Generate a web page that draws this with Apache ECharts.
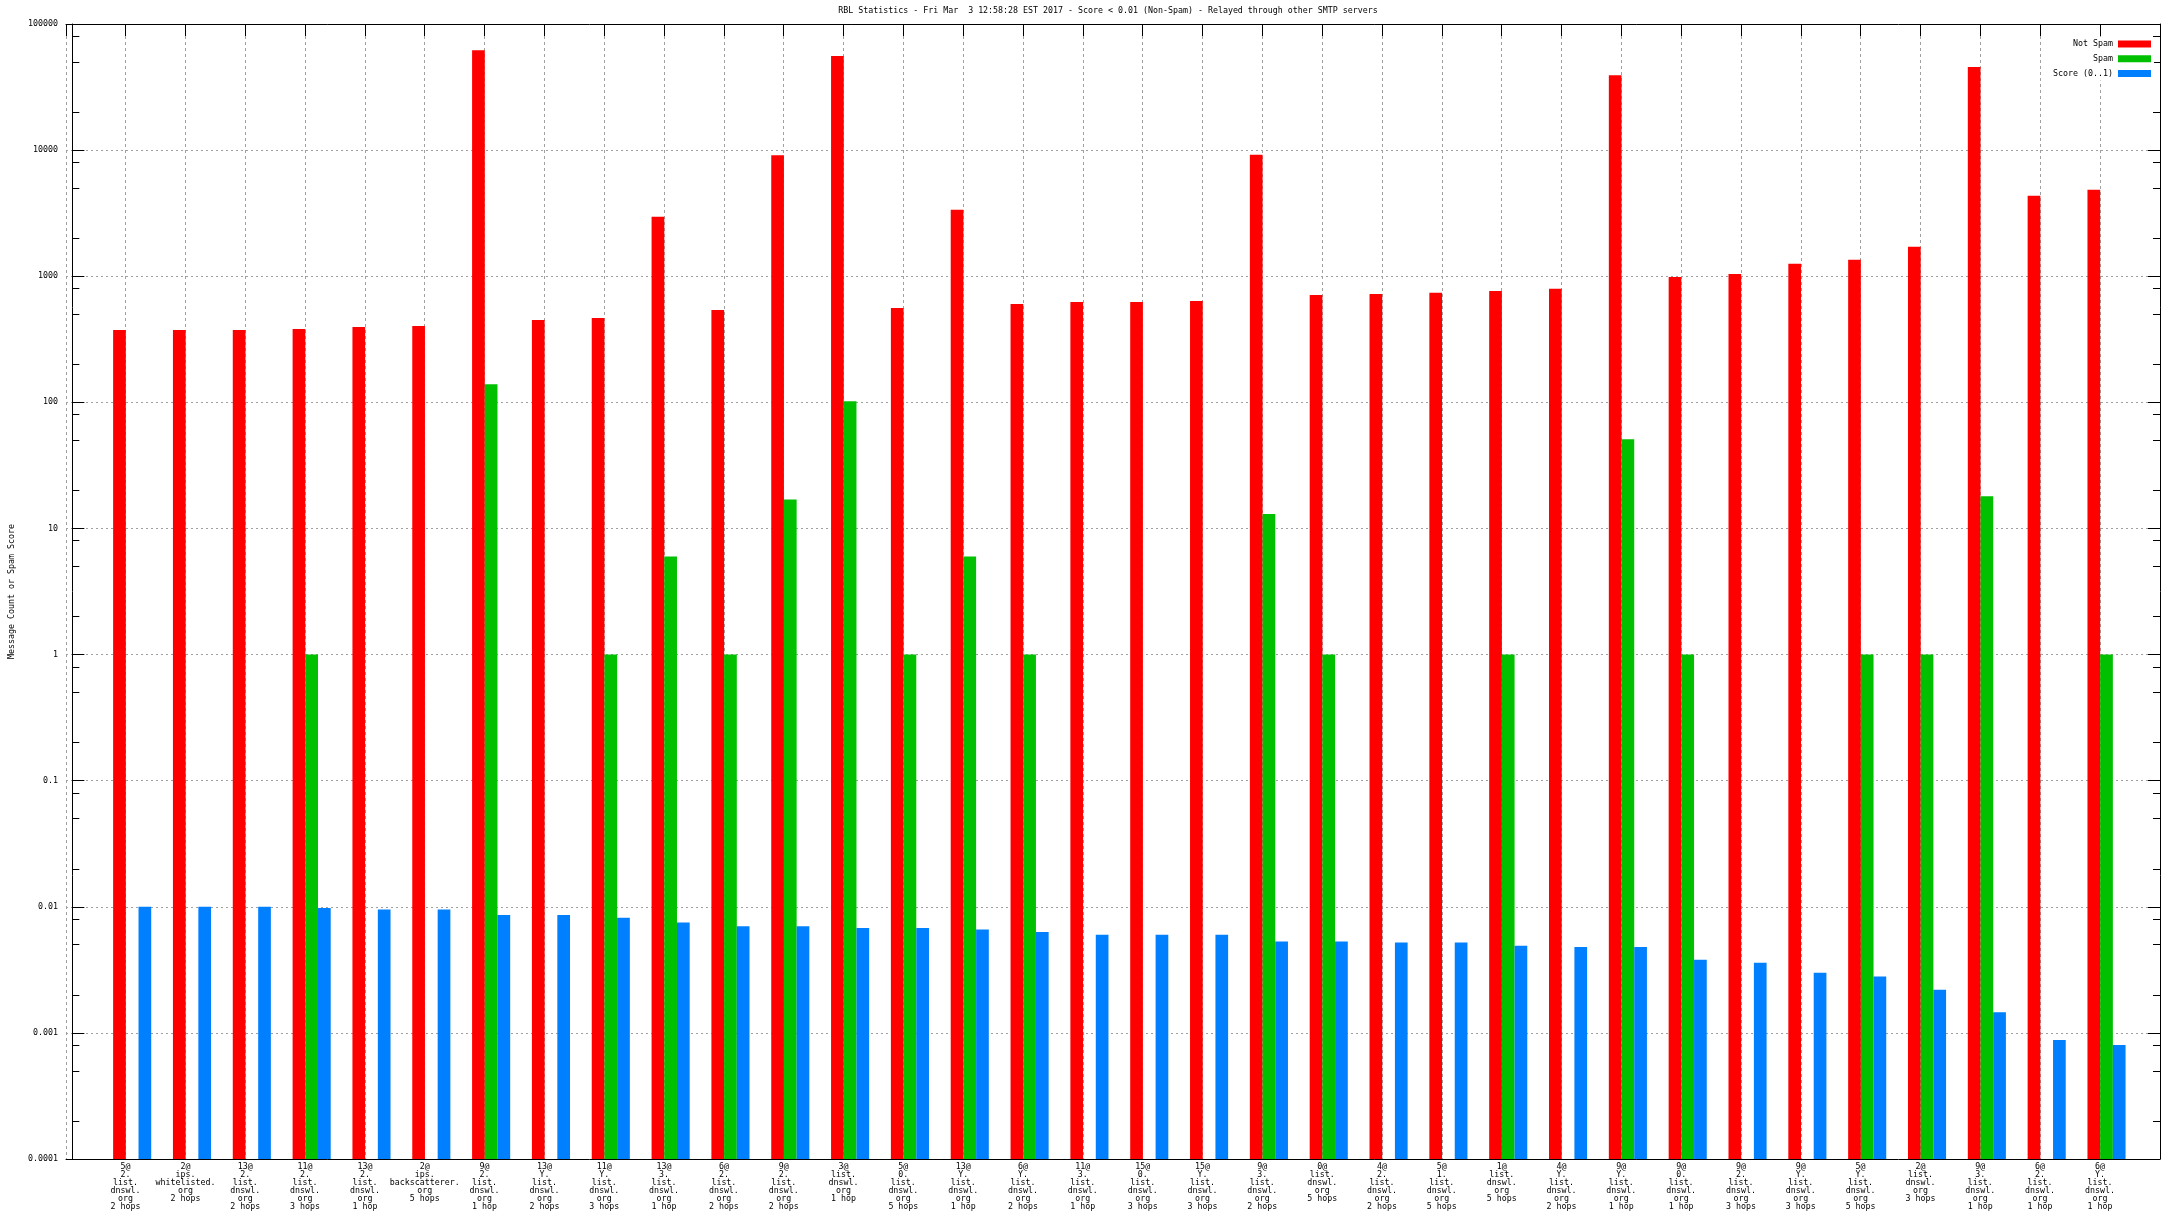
<!DOCTYPE html>
<html><head><meta charset="utf-8">
<script src="https://cdn.jsdelivr.net/npm/echarts@6/dist/echarts.min.js"></script>
<style>html,body{margin:0;padding:0;background:#fff}#c{width:2176px;height:1224px}</style>
</head><body><div id="c"></div>
<script>
const categories = [
  '5@\n2.\nlist.\ndnswl.\norg\n2 hops',
  '2@\nips.\nwhitelisted.\norg\n2 hops',
  '13@\n2.\nlist.\ndnswl.\norg\n2 hops',
  '11@\n2.\nlist.\ndnswl.\norg\n3 hops',
  '13@\n2.\nlist.\ndnswl.\norg\n1 hop',
  '2@\nips.\nbackscatterer.\norg\n5 hops',
  '9@\n2.\nlist.\ndnswl.\norg\n1 hop',
  '13@\nY.\nlist.\ndnswl.\norg\n2 hops',
  '11@\nY.\nlist.\ndnswl.\norg\n3 hops',
  '13@\n3.\nlist.\ndnswl.\norg\n1 hop',
  '6@\n2.\nlist.\ndnswl.\norg\n2 hops',
  '9@\n2.\nlist.\ndnswl.\norg\n2 hops',
  '3@\nlist.\ndnswl.\norg\n1 hop',
  '5@\n0.\nlist.\ndnswl.\norg\n5 hops',
  '13@\nY.\nlist.\ndnswl.\norg\n1 hop',
  '6@\nY.\nlist.\ndnswl.\norg\n2 hops',
  '11@\n3.\nlist.\ndnswl.\norg\n1 hop',
  '15@\n0.\nlist.\ndnswl.\norg\n3 hops',
  '15@\nY.\nlist.\ndnswl.\norg\n3 hops',
  '9@\n3.\nlist.\ndnswl.\norg\n2 hops',
  '0@\nlist.\ndnswl.\norg\n5 hops',
  '4@\n2.\nlist.\ndnswl.\norg\n2 hops',
  '5@\n1.\nlist.\ndnswl.\norg\n5 hops',
  '1@\nlist.\ndnswl.\norg\n5 hops',
  '4@\nY.\nlist.\ndnswl.\norg\n2 hops',
  '9@\nY.\nlist.\ndnswl.\norg\n1 hop',
  '9@\n0.\nlist.\ndnswl.\norg\n1 hop',
  '9@\n2.\nlist.\ndnswl.\norg\n3 hops',
  '9@\nY.\nlist.\ndnswl.\norg\n3 hops',
  '5@\nY.\nlist.\ndnswl.\norg\n5 hops',
  '2@\nlist.\ndnswl.\norg\n3 hops',
  '9@\n3.\nlist.\ndnswl.\norg\n1 hop',
  '6@\n2.\nlist.\ndnswl.\norg\n1 hop',
  '6@\nY.\nlist.\ndnswl.\norg\n1 hop'
];
const notSpam = [374, 374, 374, 381, 395, 403, 61800, 449, 466, 2965, 540, 9100, 55800, 560, 3365, 602, 625,
  626, 637, 9190, 711, 724, 738, 765, 794, 39200, 988, 1043, 1253, 1348, 1709, 45600, 4343, 4843];
const spam = [null, null, null, 1, null, null, 139, null, 1, 6, 1, 17, 102, 1, 6, 1, null,
  null, null, 13, 1, null, null, 1, null, 51, 1, null, null, 1, 1, 18, null, 1];
const score = [0.0100, 0.0100, 0.0100, 0.0098, 0.0095, 0.0095, 0.0086, 0.0086, 0.0082, 0.0075, 0.0070, 0.0070,
  0.0068, 0.0068, 0.0066, 0.0063, 0.0060, 0.0060, 0.0060, 0.0053, 0.0053, 0.0052, 0.0052, 0.0049, 0.0048,
  0.0048, 0.0038, 0.0036, 0.0030, 0.0028, 0.0022, 0.00146, 0.00088, 0.00080];
const seriesNames = ['Not Spam', 'Spam', 'Score (0..1)'];
const yTickLabels = ['0.0001', '0.001', '0.01', '0.1', '1', '10', '100', '1000', '10000', '100000'];
const minorMantissas = [2, 5, 8];
const titleText = 'RBL Statistics - Fri Mar  3 12:58:28 EST 2017 - Score < 0.01 (Non-Spam) - Relayed through other SMTP servers';
const yName = 'Message Count or Spam Score';

const FONT = 'DejaVu Sans Mono';
const FS = 8.3;
const Y_MIN = 0.0001, Y_MAX = 100000;
const X_SHIFT = 0.106;  // ticks sit at the red/green boundary
const X_MIN = -X_SHIFT, X_MAX = categories.length + 1 - X_SHIFT;

const minorVals = [];
for (let e = -4; e < 5; e++) minorMantissas.forEach(m => minorVals.push(m * Math.pow(10, e)));

const toPairs = arr => arr.map((v, i) => [i + 1, v]);
const colors = ['#ff0000', '#00c000', '#0080ff'];
const BW = 12.7;

const logAxisBase = { type: 'log', logBase: 10, min: Y_MIN, max: Y_MAX, splitNumber: 9, startValue: Y_MIN };

const chart = echarts.init(document.getElementById('c'), null, { renderer: 'canvas' });
chart.setOption({
  animation: false,
  backgroundColor: '#fff',
  title: {
    text: titleText, left: 1108, top: 7, padding: 0, textAlign: 'center',
    textStyle: { fontFamily: FONT, fontSize: FS, fontWeight: 'normal', color: '#000' }
  },
  legend: {
    orient: 'vertical', right: 22, top: 37, align: 'right', icon: 'rect',
    itemWidth: 33, itemHeight: 7, itemGap: 6.7, backgroundColor: '#fff', padding: [3, 3, 3, 10],
    data: seriesNames,
    textStyle: { fontFamily: FONT, fontSize: FS, color: '#000' }
  },
  grid: { left: 56, right: 16, top: 24, bottom: 65, containLabel: false },
  xAxis: [
    {
      type: 'value', min: X_MIN, max: X_MAX, interval: 1, position: 'bottom',
      axisLine: { show: true, lineStyle: { color: '#000', width: 1 } },
      axisTick: { show: false },
      axisLabel: {
        show: true, margin: 4, fontFamily: FONT, fontSize: FS, lineHeight: 8, color: '#000',
        showMinLabel: true, showMaxLabel: true,
        formatter: v => { const k = Math.round(v + X_SHIFT); return categories[k - 1] || ''; }
      },
      splitLine: { show: true, lineStyle: { color: '#a0a0a0', width: 1, type: [3, 3] } }
    },
    {
      type: 'value', min: X_MIN, max: X_MAX, interval: 1, position: 'top',
      axisLine: { show: true, lineStyle: { color: '#000', width: 1 } },
      axisTick: { show: true, inside: true, length: 12, lineStyle: { color: '#000' } },
      axisLabel: { show: false }, splitLine: { show: false }
    }
  ],
  yAxis: [
    Object.assign({}, logAxisBase, {
      position: 'left',
      name: yName, nameLocation: 'middle', nameGap: 50, nameRotate: 90,
      nameTextStyle: { fontFamily: FONT, fontSize: FS, color: '#000' },
      axisLine: { show: true, lineStyle: { color: '#000', width: 1 } },
      axisTick: { show: true, inside: true, length: 12, lineStyle: { color: '#000' } },
      axisLabel: {
        margin: 8, fontFamily: FONT, fontSize: FS, color: '#000',
        formatter: v => yTickLabels[Math.round(Math.log10(v)) + 4] || ''
      },
      splitLine: { show: true, lineStyle: { color: '#a0a0a0', width: 1, type: [2, 3] } }
    }),
    Object.assign({}, logAxisBase, {
      position: 'left',
      axisLine: { show: false },
      axisTick: { show: true, inside: true, length: 7, customValues: minorVals, lineStyle: { color: '#000' } },
      axisLabel: { show: false }, splitLine: { show: false }
    }),
    Object.assign({}, logAxisBase, {
      position: 'right',
      axisLine: { show: true, lineStyle: { color: '#000', width: 1 } },
      axisTick: { show: true, inside: true, length: 12, lineStyle: { color: '#000' } },
      axisLabel: { show: false }, splitLine: { show: false }
    }),
    Object.assign({}, logAxisBase, {
      position: 'right',
      axisLine: { show: false },
      axisTick: { show: true, inside: true, length: 7, customValues: minorVals, lineStyle: { color: '#000' } },
      axisLabel: { show: false }, splitLine: { show: false }
    })
  ],
  series: [notSpam, spam, score].map((arr, i) => ({
    name: seriesNames[i], type: 'bar', xAxisIndex: 0, yAxisIndex: 0,
    data: toPairs(arr), barWidth: BW, barGap: '0%',
    itemStyle: { color: colors[i] }
  }))
});
</script></body></html>
